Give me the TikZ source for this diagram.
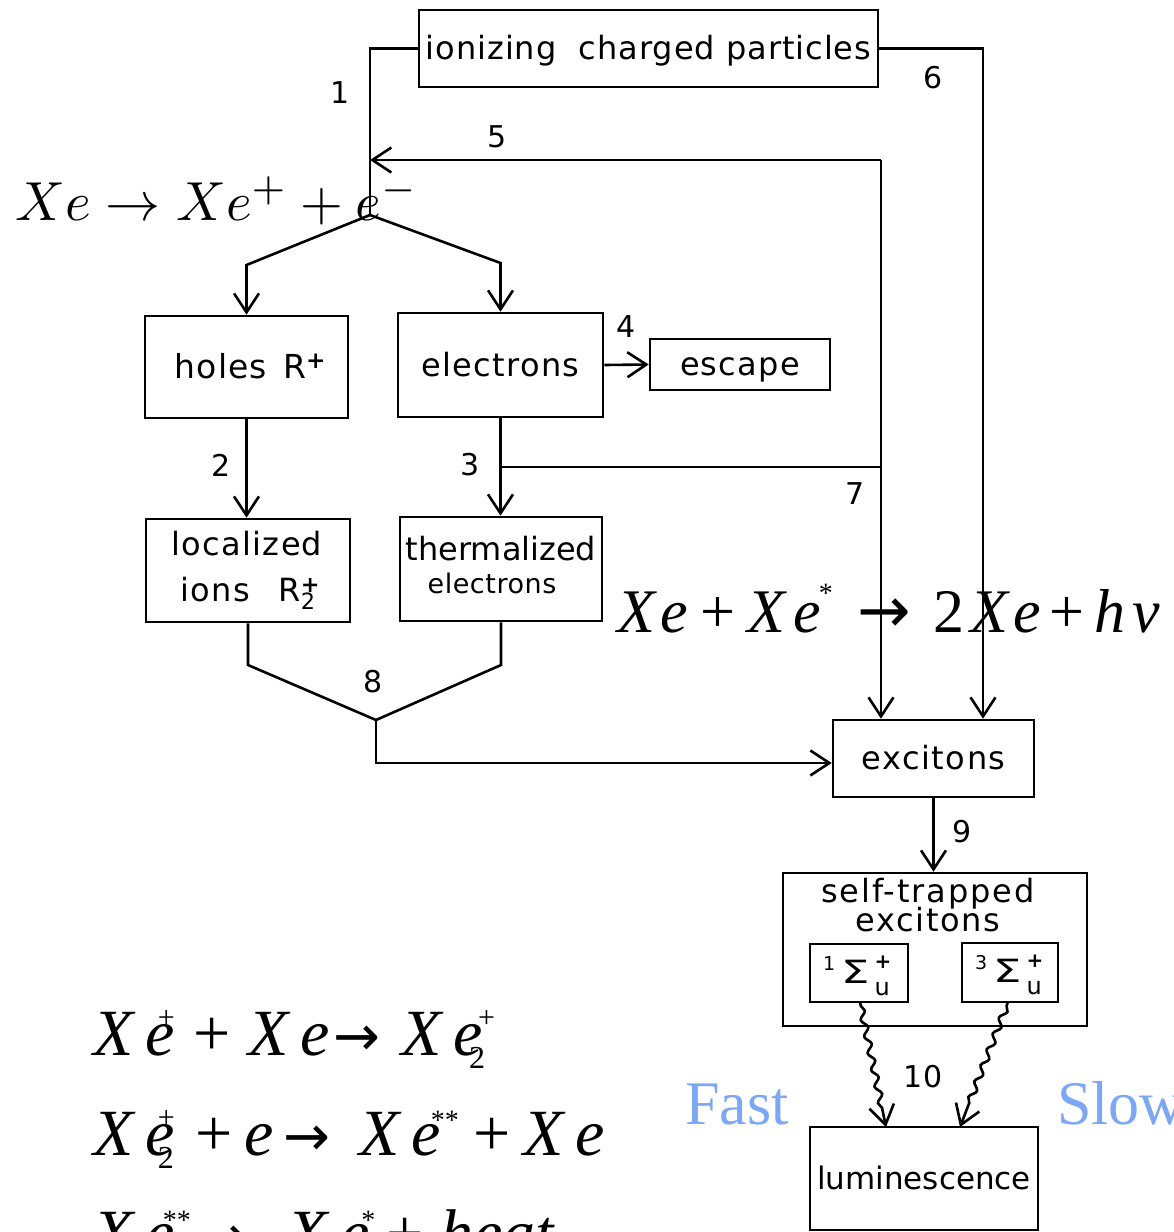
\documentclass[tikz,border=0pt]{standalone}
\usepackage{fontspec}
\setmainfont{DejaVu Sans}
\newfontfamily\tmsfont{Liberation Serif}
\newfontfamily\djvfont{DejaVu Sans}
\usetikzlibrary{arrows.meta,decorations.pathmorphing}
\definecolor{fastblue}{HTML}{7CA7F4}
\newcommand\eqxe{{\itshape X\kern12pt e}}
\newcommand\eqsup[2]{\kern-#1\rlap{\raisebox{28pt}{\fontsize{30}{30}\selectfont #2}}\kern#1}
\newcommand\eqsub[2]{\kern-#1\rlap{\raisebox{-13pt}{\fontsize{32}{32}\selectfont #2}}\kern#1}
\newcommand\eqstar[3]{\kern-#1\rlap{\raisebox{#2}{\fontsize{28}{28}\selectfont #3}}\kern#1}
\newcommand\eqarrow[1]{{\djvfont\fontsize{#1}{#1}\selectfont →}}
\newcommand\sigmaterm[1]{\raisebox{13pt}{\fontsize{19}{19}\selectfont #1}\kern6pt\scalebox{1.4}[1]{Σ}\kern5pt\rlap{\raisebox{15pt}{\fontsize{20}{20}\selectfont\bfseries +}}\raisebox{-12pt}{\fontsize{24}{24}\selectfont u}}
\tikzset{
  box/.style={draw, line width=2.6pt, inner sep=0pt, align=center,
    text height=26pt, text depth=4pt, font=\fontsize{32}{36}\selectfont},
  txt/.style={inner sep=0pt, text height=22pt, text depth=4.4pt, font=\fontsize{32}{36}\selectfont},
  conn/.style={line width=2.6pt, line join=miter},
  arr/.style={conn, -{Straight Barb[length=19pt,width=25pt,line width=2.6pt]}},
  wavy/.style={arr, decorate, decoration={snake, amplitude=3pt, segment length=17pt, pre length=4pt, post length=18pt}},
  num/.style={inner sep=0pt, font=\fontsize{30}{30}\selectfont},
  eqn/.style={inner sep=0pt, anchor=base west, font=\tmsfont\fontsize{66}{66}\selectfont},
  blue label/.style={inner sep=0pt, anchor=base west, text=fastblue, font=\tmsfont\fontsize{62}{62}\selectfont}
}
\begin{document}
\begin{tikzpicture}[x=1pt,y=-1pt]
\useasboundingbox (0,0) rectangle (1174,1232);
\clip (0,0) rectangle (1174,1232);

% boxes
\node[box, minimum width=459pt, minimum height=77pt, font=\fontsize{32}{36}\selectfont\addfontfeature{LetterSpace=3}] (ion) at (648.5,48.5) {ionizing\hspace{0.7em}charged particles};
\node[box, minimum width=203pt, minimum height=102pt, font=\fontsize{33}{36}\selectfont\addfontfeature{LetterSpace=3}] (holes) at (246.5,367) {\kern8pt holes\hspace{0.5em}R\textsuperscript{\bfseries +}};
\node[box, minimum width=205pt, minimum height=104pt, font=\fontsize{32}{36}\selectfont\addfontfeature{LetterSpace=4}] (elec) at (500.5,365) {electrons};
\node[box, minimum width=180pt, minimum height=51pt, font=\fontsize{32}{36}\selectfont\addfontfeature{LetterSpace=4}] (esc) at (740,364.5) {escape};
\node[box, minimum width=204pt, minimum height=103pt] (loc) at (248,570.5) {};
\node[txt, font=\fontsize{32}{36}\selectfont\addfontfeature{LetterSpace=4}] (loc1) at (247,547) {localized};
\node[txt, font=\fontsize{32}{36}\selectfont\addfontfeature{LetterSpace=4}] (loc2) at (248,593) {ions\hspace{0.9em}R\rlap{\textsuperscript{\bfseries +}}\textsubscript{2}};
\node[box, minimum width=202pt, minimum height=104pt] (therm) at (501,569) {};
\node[txt, font=\fontsize{32}{36}\selectfont] (th1) at (501,552) {thermalized};
\node[txt, font=\fontsize{27}{30}\selectfont\addfontfeature{LetterSpace=2}] (th2) at (492,585) {electrons};
\node[box, minimum width=201pt, minimum height=77pt, font=\fontsize{32}{36}\selectfont\addfontfeature{LetterSpace=5}] (exc) at (933.5,758.5) {excitons};
\node[box, minimum width=304pt, minimum height=153pt] (stx) at (935,949.5) {};
\node[txt, font=\fontsize{32}{36}\selectfont\addfontfeature{LetterSpace=6}] (st1) at (928,894) {self-trapped};
\node[txt, font=\fontsize{32}{36}\selectfont\addfontfeature{LetterSpace=5}] (st2) at (928,923) {excitons};
\node[box, minimum width=98pt, minimum height=58pt] (sg1) at (859,973) {};
\node[box, minimum width=96pt, minimum height=59pt] (sg3) at (1010,972.5) {};
\node[inner sep=0pt, anchor=base west, font=\fontsize{32}{32}\selectfont] (sg1t) at (823,983) {\sigmaterm{1}};
\node[inner sep=0pt, anchor=base west, font=\fontsize{32}{32}\selectfont] (sg3t) at (975,982) {\sigmaterm{3}};
\node[box, minimum width=228pt, minimum height=103pt, font=\fontsize{31}{36}\selectfont] (lum) at (924,1178.5) {luminescence};

% number labels
\node[num] (n1) at (340,93) {1};
\node[num] (n5) at (497,137) {5};
\node[num] (n6) at (933,78) {6};
\node[num] (n4) at (626,327) {4};
\node[num] (n2) at (221,465) {2};
\node[num] (n3) at (470,465) {3};
\node[num] (n7) at (855,494) {7};
\node[num] (n8) at (373,682) {8};
\node[num] (n9) at (962,832) {9};
\node[num] (n10) at (923,1077) {10};

% coordinates
\coordinate (c1) at (370,48.5);
\coordinate (split) at (370,215);
\coordinate (bl) at (246.5,265);
\coordinate (br) at (500.5,263);
\coordinate (j5) at (370,160);
\coordinate (c5) at (881,160);
\coordinate (c6) at (983,48.5);
\coordinate (j7) at (500.5,467);
\coordinate (m1) at (248,665);
\coordinate (m2) at (501,665);
\coordinate (mv) at (376,720);
\coordinate (mc) at (376,763);
\coordinate (w1e) at (886,1127);
\coordinate (w3e) at (960,1127);
\coordinate (w1s) at (860,1002);
\coordinate (w3s) at (1008,1002);

% connectors
\draw[conn] (ion.west) -- (c1) -- (split);
\draw[arr] (split) -- (bl) -- (holes.north);
\draw[arr] (split) -- (br) -- (elec.north);
\draw[arr] (c5) -- (j5);
\draw[arr] (c5) -- (c5 |- exc.north);
\draw[arr] (ion.east) -- (c6) -- (c6 |- exc.north);
\draw[conn] (j7) -- (j7 -| c5);
\draw[arr] (elec.east) -- (esc.west);
\draw[arr] (holes.south) -- (holes.south |- loc.north);
\draw[arr] (elec.south) -- (elec.south |- therm.north);
\draw[conn] (loc.south -| m1) -- (m1) -- (mv) -- (m2) -- (therm.south -| m2);
\draw[arr] (mv) -- (mc) -- (mc -| exc.west);
\draw[arr] (exc.south) -- (exc.south |- stx.north);
\draw[wavy] (w1s) -- (w1e);
\draw[wavy] (w3s) -- (w3e);

% equations
\node[inner sep=0pt, anchor=base west] (eqion) at (15,220) {\scalebox{5.5}{$Xe\rightarrow Xe^{+}+e^{-}$}};
\node[eqn, font=\tmsfont\fontsize{62}{62}\selectfont] (eqlum) at (617,632) {{\itshape X\kern5pt e}\kern13pt+\kern12pt{\itshape X\kern8pt e}\eqstar{2pt}{30pt}{*}\kern37pt\eqarrow{64}\kern22pt2\kern6pt{\itshape X\kern5pt e}\kern9pt+\kern10pt{\itshape h\kern7pt ν}};
\node[eqn] (eqa) at (93,1055) {\eqxe\eqsup{17pt}{+}\kern19pt+\kern17pt\eqxe\kern4pt\eqarrow{56}\kern21pt\eqxe\eqsup{5pt}{+}\eqsub{14pt}{2}};
\node[eqn] (eqb) at (93,1155) {\eqxe\eqsup{17pt}{+}\eqsub{17pt}{2}\kern21pt+\kern11pt{\itshape e}\kern10pt\eqarrow{56}\kern29pt\eqxe\eqstar{10pt}{26pt}{**}\kern33pt+\kern12pt\eqxe};
\node[eqn] (eqc) at (93,1255) {\eqxe\eqstar{12pt}{26pt}{**}\kern26pt\eqarrow{56}\kern40pt\eqxe\eqstar{8pt}{26pt}{*}\kern17pt+\kern17pt{\itshape heat}};

\node[blue label] (fast) at (685,1124) {Fast};
\node[blue label] (slow) at (1057,1124) {Slow};
\end{tikzpicture}
\end{document}
